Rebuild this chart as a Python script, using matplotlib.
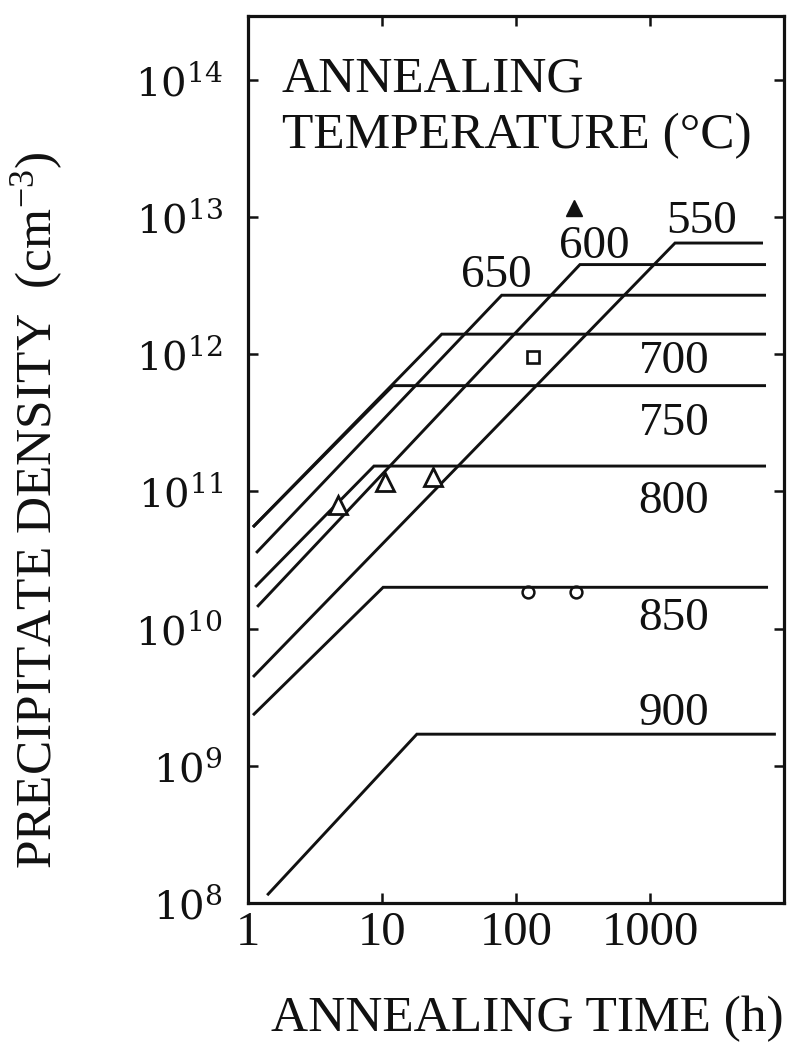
import matplotlib
matplotlib.use("Agg")
import matplotlib.pyplot as plt

# Annealing temperatures (deg C) and the piecewise (growth, then saturation) curves
temps = [550, 600, 650, 700, 750, 800, 850, 900]
t_start = [1.09, 1.17, 1.15, 1.09, 1.09, 1.13, 1.09, 1.39]          # h
n_start = [4.44e9, 1.44e10, 3.56e10, 5.5e10, 5.5e10, 2.01e10, 2.34e9, 1.14e8]  # cm^-3
t_knee = [1537, 300, 78.2, 27.9, 12.1, 8.71, 10.2, 18.2]             # h
n_sat = [6.46e12, 4.5e12, 2.69e12, 1.40e12, 5.9e11, 1.53e11, 2.0e10, 1.7e9]  # cm^-3
t_end = [6970, 7340, 7340, 7340, 7340, 7340, 7600, 8700]             # h

# Measured points
open_tri_t = [4.70, 10.5, 24.0]
open_tri_n = [8.0e10, 1.17e11, 1.27e11]
filled_tri_t = [271]
filled_tri_n = [1.16e13]
square_t = [134]
square_n = [9.55e11]
circle_t = [123, 280]
circle_n = [1.86e10, 1.86e10]

x_ticks = [1, 10, 100, 1000]
x_tick_labels = ["1", "10", "100", "1000"]
y_exponents = [8, 9, 10, 11, 12, 13, 14]

W, H = 792, 1047
fig = plt.figure(figsize=(W / 100, H / 100), dpi=100)
ax = fig.add_axes([248 / W, 1 - 903 / H, 536 / W, 887 / H])

SERIF = "Liberation Serif"
ink = "#111111"

for T, ts, ns, tk, nk, te in zip(temps, t_start, n_start, t_knee, n_sat, t_end):
    ax.plot([ts, tk, te], [ns, nk, nk], color=ink, lw=2.1,
            solid_joinstyle="miter", solid_capstyle="butt", zorder=3)

ax.plot(circle_t, circle_n, "o", ms=8.5, mfc="white", mec=ink, mew=1.8, zorder=2)
ax.plot(open_tri_t, open_tri_n, "^", ms=13, mfc="white", mec=ink, mew=2.0, zorder=4)
ax.plot(filled_tri_t, filled_tri_n, "^", ms=12, mfc=ink, mec=ink, mew=1.0, zorder=4)
ax.plot(square_t, square_n, "s", ms=8, mfc="white", mec=ink, mew=1.9, zorder=4)

ax.set_xscale("log")
ax.set_yscale("log")
ax.set_xlim(1, 1e4)
ax.set_ylim(1e8, 10 ** 14.465)

ax.set_xticks(x_ticks)
ax.set_xticklabels(x_tick_labels, fontfamily=SERIF, fontsize=35, color=ink)
ax.set_yticks([10.0 ** e for e in y_exponents])
ax.set_yticklabels([r"$\mathregular{10^{%d}}$" % e for e in y_exponents],
                   fontfamily="DejaVu Serif", fontsize=29, color=ink)
ax.minorticks_off()
ax.tick_params(axis="both", which="major", direction="in", length=7,
               width=1.8, top=True, right=True, color=ink)
ax.tick_params(axis="x", pad=6)
ax.tick_params(axis="y", pad=18)

for sp in ax.spines.values():
    sp.set_linewidth(2.3)
    sp.set_color(ink)

# Temperature labels on the curves
label_pos = {
    550: (2443, 7.64e12), 600: (382, 5.02e12), 650: (71, 3.09e12),
    700: (1510, 7.3e11), 750: (1510, 2.58e11), 800: (1510, 6.97e10),
    850: (1510, 9.77e9), 900: (1510, 1.98e9),
}
for T in temps:
    x, y = label_pos[T]
    ax.text(x, y, str(T), ha="center", va="baseline", fontfamily=SERIF,
            fontsize=34, color=ink, zorder=5)

fig.text(281 / W, 1 - 92 / H, "ANNEALING", ha="left", va="baseline",
         fontfamily=SERIF, fontsize=37, color=ink)
fig.text(282 / W, 1 - 148 / H, "TEMPERATURE (\u00b0C)", ha="left", va="baseline",
         fontfamily=SERIF, fontsize=37, color=ink)

fig.text(527 / W, 1 - 1031 / H, "ANNEALING TIME (h)", ha="center", va="baseline",
         fontfamily=SERIF, fontsize=37, color=ink)
fig.text(37 / W, 1 - 510 / H, r"PRECIPITATE DENSITY  (cm$\mathregular{^{-3}}$)",
         ha="center", va="center", rotation=90,
         fontfamily=SERIF, fontsize=37, color=ink)

fig.savefig("out.png", dpi=100, facecolor="white")
